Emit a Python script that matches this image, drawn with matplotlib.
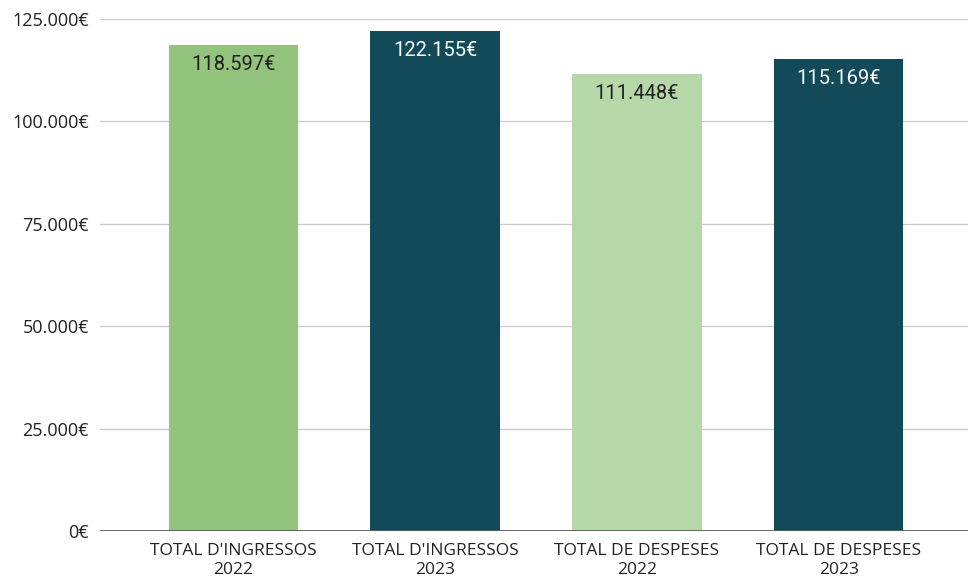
import matplotlib.pyplot as plt
from matplotlib.ticker import FuncFormatter

# Chart data
categories = ["TOTAL D'INGRESSOS\n2022", "TOTAL D'INGRESSOS\n2023",
              "TOTAL DE DESPESES\n2022", "TOTAL DE DESPESES\n2023"]
values = [118597, 122155, 111448, 115169]
value_labels = ["118.597€", "122.155€", "111.448€", "115.169€"]
bar_colors = ["#93c47d", "#134a59", "#b6d7a8", "#134a59"]
label_colors = ["#222222", "#ffffff", "#222222", "#ffffff"]
y_ticks = [0, 25000, 50000, 75000, 100000, 125000]


def euro(v, pos=None):
    # thousands separator as a dot, euro sign after
    return f"{int(v):,}".replace(",", ".") + "€"


fig = plt.figure(figsize=(9.68, 5.8), dpi=100)
ax = fig.add_axes([0.1033, 0.0845, 0.8967, 0.8828])

x = range(len(categories))
ax.bar(x, values, width=0.64, color=bar_colors, zorder=3)

# value labels just under the bar tops
for i, (v, lab, c) in enumerate(zip(values, value_labels, label_colors)):
    ax.annotate(lab, (i, v), xytext=(0, -14), textcoords="offset points",
                ha="center", va="center", color=c, fontsize=14.5,
                family="Roboto", zorder=4)

ax.set_ylim(0, 125000)
ax.set_xlim(-0.66, 3.64)
ax.set_yticks(y_ticks)
ax.yaxis.set_major_formatter(FuncFormatter(euro))
ax.set_xticks(list(x))
ax.set_xticklabels(categories, family="Open Sans", fontsize=12.5,
                   color="#222222", linespacing=1.2)

ax.grid(axis="y", color="#cccccc", linewidth=1, zorder=0)
ax.axhline(0, color="#5a5a5a", linewidth=2, zorder=5)

for s in ax.spines.values():
    s.set_visible(False)
ax.tick_params(axis="both", length=0)
ax.tick_params(axis="y", pad=8, labelsize=13, labelcolor="#222222")
ax.tick_params(axis="x", pad=9)
for t in ax.get_yticklabels():
    t.set_family("Open Sans")

fig.savefig("out.png", dpi=100)
